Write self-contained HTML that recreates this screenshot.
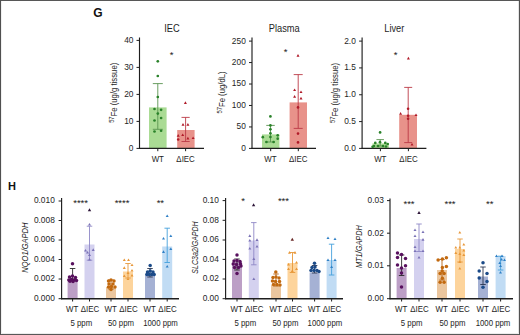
<!DOCTYPE html><html><head><meta charset="utf-8"><style>html,body{margin:0;padding:0;background:#fff;}svg{display:block;}</style></head><body>
<svg width="520" height="335" viewBox="0 0 520 335" font-family='"Liberation Sans", sans-serif'>
<rect x="0" y="0" width="520" height="335" fill="#fff"/>
<rect x="0" y="0" width="520" height="1" fill="#575757"/>
<rect x="0" y="334" width="520" height="1" fill="#585858"/>
<rect x="0" y="0" width="1" height="335" fill="#505050"/>
<rect x="519" y="0" width="1" height="335" fill="#525252"/>
<rect x="518" y="1" width="1" height="333" fill="#e4e4e4"/>
<rect x="1" y="333" width="518" height="1" fill="#ececec"/>
<rect x="1" y="1" width="1" height="333" fill="#f0f0f0"/>
<text transform="translate(97.80 17.10)" font-size="12" text-anchor="middle" font-weight="bold" font-style="normal" fill="#111" >G</text>
<text transform="translate(12.00 190.20)" font-size="11" text-anchor="middle" font-weight="bold" font-style="normal" fill="#111" >H</text>
<text transform="translate(172.00 32.20) scale(0.9 1)" font-size="10.3" text-anchor="middle" font-weight="normal" font-style="normal" fill="#1e1e1e" >IEC</text>
<line x1="139.50" y1="37.50" x2="139.50" y2="148.90" stroke="#1e1e1e" stroke-width="1.15"/>
<line x1="136.50" y1="40.40" x2="139.50" y2="40.40" stroke="#1e1e1e" stroke-width="1"/>
<text transform="translate(133.50 42.80) scale(0.95 1)" font-size="8.8" text-anchor="end" font-weight="normal" font-style="normal" fill="#1e1e1e" >40</text>
<line x1="136.50" y1="67.40" x2="139.50" y2="67.40" stroke="#1e1e1e" stroke-width="1"/>
<text transform="translate(133.50 69.80) scale(0.95 1)" font-size="8.8" text-anchor="end" font-weight="normal" font-style="normal" fill="#1e1e1e" >30</text>
<line x1="136.50" y1="94.40" x2="139.50" y2="94.40" stroke="#1e1e1e" stroke-width="1"/>
<text transform="translate(133.50 96.80) scale(0.95 1)" font-size="8.8" text-anchor="end" font-weight="normal" font-style="normal" fill="#1e1e1e" >20</text>
<line x1="136.50" y1="121.40" x2="139.50" y2="121.40" stroke="#1e1e1e" stroke-width="1"/>
<text transform="translate(133.50 123.80) scale(0.95 1)" font-size="8.8" text-anchor="end" font-weight="normal" font-style="normal" fill="#1e1e1e" >10</text>
<line x1="136.50" y1="148.40" x2="139.50" y2="148.40" stroke="#1e1e1e" stroke-width="1"/>
<text transform="translate(133.50 150.80) scale(0.95 1)" font-size="8.8" text-anchor="end" font-weight="normal" font-style="normal" fill="#1e1e1e" >0</text>
<rect x="149.00" y="107.40" width="17.60" height="41.00" fill="#aadb94"/>
<rect x="177.20" y="130.00" width="17.40" height="18.40" fill="#e8928a"/>
<line x1="139.00" y1="148.40" x2="204.00" y2="148.40" stroke="#1e1e1e" stroke-width="1.35"/>
<line x1="157.80" y1="148.40" x2="157.80" y2="151.20" stroke="#1e1e1e" stroke-width="1"/>
<line x1="185.60" y1="148.40" x2="185.60" y2="151.20" stroke="#1e1e1e" stroke-width="1"/>
<line x1="157.80" y1="83.60" x2="157.80" y2="129.30" stroke="#5a9450" stroke-width="0.9"/>
<line x1="152.80" y1="83.60" x2="162.80" y2="83.60" stroke="#5a9450" stroke-width="0.9"/>
<line x1="152.80" y1="129.30" x2="162.80" y2="129.30" stroke="#5a9450" stroke-width="0.9"/>
<line x1="185.60" y1="117.40" x2="185.60" y2="141.50" stroke="#bb3a46" stroke-width="0.9"/>
<line x1="181.50" y1="117.40" x2="189.70" y2="117.40" stroke="#bb3a46" stroke-width="0.9"/>
<line x1="181.50" y1="141.50" x2="189.70" y2="141.50" stroke="#bb3a46" stroke-width="0.9"/>
<circle cx="157.80" cy="61.30" r="1.35" fill="#2a822a"/>
<circle cx="157.80" cy="76.00" r="1.35" fill="#2a822a"/>
<circle cx="157.80" cy="97.00" r="1.35" fill="#2a822a"/>
<circle cx="154.50" cy="109.00" r="1.35" fill="#2a822a"/>
<circle cx="161.10" cy="109.80" r="1.35" fill="#2a822a"/>
<circle cx="157.80" cy="113.60" r="1.35" fill="#2a822a"/>
<circle cx="161.10" cy="118.00" r="1.35" fill="#2a822a"/>
<circle cx="154.50" cy="120.50" r="1.35" fill="#2a822a"/>
<circle cx="154.50" cy="131.50" r="1.35" fill="#2a822a"/>
<circle cx="161.10" cy="130.75" r="1.35" fill="#2a822a"/>
<path d="M185.40 101.18L186.90 103.88L183.90 103.88Z" fill="#b01a28"/>
<path d="M183.00 122.98L184.50 125.68L181.50 125.68Z" fill="#b01a28"/>
<path d="M187.90 122.98L189.40 125.68L186.40 125.68Z" fill="#b01a28"/>
<path d="M178.20 133.98L179.70 136.68L176.70 136.68Z" fill="#b01a28"/>
<path d="M182.70 133.38L184.20 136.08L181.20 136.08Z" fill="#b01a28"/>
<path d="M187.90 136.68L189.40 139.38L186.40 139.38Z" fill="#b01a28"/>
<path d="M193.10 136.38L194.60 139.08L191.60 139.08Z" fill="#b01a28"/>
<circle cx="178.20" cy="139.50" r="1.3" fill="#b01a28"/>
<text transform="translate(171.60 58.00)" font-size="9.5" text-anchor="middle" font-weight="normal" font-style="normal" fill="#1a1a1a" >*</text>
<text transform="translate(157.80 161.50) scale(0.9 1)" font-size="8.8" text-anchor="middle" font-weight="normal" font-style="normal" fill="#1e1e1e" >WT</text>
<text transform="translate(185.60 161.50) scale(0.9 1)" font-size="8.8" text-anchor="middle" font-weight="normal" font-style="normal" fill="#1e1e1e" >ΔIEC</text>
<text transform="translate(117.10 92.80) rotate(-90) scale(0.88 1)" font-size="8.8" text-anchor="middle" font-weight="normal" font-style="normal" fill="#1e1e1e" ><tspan font-size="6.6" dy="-2.9">57</tspan><tspan dy="2.9">Fe (ug/g tissue)</tspan></text>
<text transform="translate(284.30 32.20) scale(0.9 1)" font-size="10.3" text-anchor="middle" font-weight="normal" font-style="normal" fill="#1e1e1e" >Plasma</text>
<line x1="252.00" y1="37.60" x2="252.00" y2="148.90" stroke="#1e1e1e" stroke-width="1.15"/>
<line x1="249.00" y1="41.10" x2="252.00" y2="41.10" stroke="#1e1e1e" stroke-width="1"/>
<text transform="translate(245.80 43.50) scale(0.95 1)" font-size="8.8" text-anchor="end" font-weight="normal" font-style="normal" fill="#1e1e1e" >250</text>
<line x1="249.00" y1="62.56" x2="252.00" y2="62.56" stroke="#1e1e1e" stroke-width="1"/>
<text transform="translate(245.80 64.96) scale(0.95 1)" font-size="8.8" text-anchor="end" font-weight="normal" font-style="normal" fill="#1e1e1e" >200</text>
<line x1="249.00" y1="84.02" x2="252.00" y2="84.02" stroke="#1e1e1e" stroke-width="1"/>
<text transform="translate(245.80 86.42) scale(0.95 1)" font-size="8.8" text-anchor="end" font-weight="normal" font-style="normal" fill="#1e1e1e" >150</text>
<line x1="249.00" y1="105.48" x2="252.00" y2="105.48" stroke="#1e1e1e" stroke-width="1"/>
<text transform="translate(245.80 107.88) scale(0.95 1)" font-size="8.8" text-anchor="end" font-weight="normal" font-style="normal" fill="#1e1e1e" >100</text>
<line x1="249.00" y1="126.94" x2="252.00" y2="126.94" stroke="#1e1e1e" stroke-width="1"/>
<text transform="translate(245.80 129.34) scale(0.95 1)" font-size="8.8" text-anchor="end" font-weight="normal" font-style="normal" fill="#1e1e1e" >50</text>
<line x1="249.00" y1="148.40" x2="252.00" y2="148.40" stroke="#1e1e1e" stroke-width="1"/>
<text transform="translate(245.80 150.80) scale(0.95 1)" font-size="8.8" text-anchor="end" font-weight="normal" font-style="normal" fill="#1e1e1e" >0</text>
<rect x="262.00" y="134.40" width="17.40" height="14.00" fill="#aadb94"/>
<rect x="289.60" y="102.40" width="17.40" height="46.00" fill="#e8928a"/>
<line x1="251.50" y1="148.40" x2="316.00" y2="148.40" stroke="#1e1e1e" stroke-width="1.35"/>
<line x1="270.70" y1="148.40" x2="270.70" y2="151.20" stroke="#1e1e1e" stroke-width="1"/>
<line x1="298.30" y1="148.40" x2="298.30" y2="151.20" stroke="#1e1e1e" stroke-width="1"/>
<line x1="270.50" y1="125.40" x2="270.50" y2="142.00" stroke="#5a9450" stroke-width="0.9"/>
<line x1="266.25" y1="125.40" x2="274.75" y2="125.40" stroke="#5a9450" stroke-width="0.9"/>
<line x1="266.25" y1="142.00" x2="274.75" y2="142.00" stroke="#5a9450" stroke-width="0.9"/>
<line x1="298.20" y1="74.60" x2="298.20" y2="128.40" stroke="#bb3a46" stroke-width="0.9"/>
<line x1="293.70" y1="74.60" x2="302.70" y2="74.60" stroke="#bb3a46" stroke-width="0.9"/>
<line x1="293.70" y1="128.40" x2="302.70" y2="128.40" stroke="#bb3a46" stroke-width="0.9"/>
<circle cx="270.40" cy="116.40" r="1.35" fill="#2a822a"/>
<circle cx="270.40" cy="125.40" r="1.35" fill="#2a822a"/>
<circle cx="270.40" cy="129.30" r="1.35" fill="#2a822a"/>
<circle cx="270.40" cy="133.30" r="1.35" fill="#2a822a"/>
<circle cx="277.70" cy="135.30" r="1.35" fill="#2a822a"/>
<circle cx="262.80" cy="137.20" r="1.35" fill="#2a822a"/>
<circle cx="270.40" cy="137.00" r="1.35" fill="#2a822a"/>
<circle cx="277.70" cy="138.70" r="1.35" fill="#2a822a"/>
<circle cx="266.40" cy="142.00" r="1.35" fill="#2a822a"/>
<circle cx="273.60" cy="142.00" r="1.35" fill="#2a822a"/>
<path d="M298.00 53.98L299.50 56.68L296.50 56.68Z" fill="#b01a28"/>
<path d="M294.60 88.38L296.10 91.08L293.10 91.08Z" fill="#b01a28"/>
<path d="M301.00 90.38L302.50 93.08L299.50 93.08Z" fill="#b01a28"/>
<path d="M294.60 94.98L296.10 97.68L293.10 97.68Z" fill="#b01a28"/>
<path d="M301.00 96.78L302.50 99.48L299.50 99.48Z" fill="#b01a28"/>
<circle cx="298.00" cy="107.40" r="1.3" fill="#b01a28"/>
<circle cx="298.00" cy="133.60" r="1.3" fill="#b01a28"/>
<circle cx="298.00" cy="142.40" r="1.3" fill="#b01a28"/>
<text transform="translate(285.70 54.60)" font-size="9.5" text-anchor="middle" font-weight="normal" font-style="normal" fill="#1a1a1a" >*</text>
<text transform="translate(270.50 161.50) scale(0.9 1)" font-size="8.8" text-anchor="middle" font-weight="normal" font-style="normal" fill="#1e1e1e" >WT</text>
<text transform="translate(298.30 161.50) scale(0.9 1)" font-size="8.8" text-anchor="middle" font-weight="normal" font-style="normal" fill="#1e1e1e" >ΔIEC</text>
<text transform="translate(224.60 92.50) rotate(-90) scale(0.88 1)" font-size="8.8" text-anchor="middle" font-weight="normal" font-style="normal" fill="#1e1e1e" ><tspan font-size="6.6" dy="-2.9">57</tspan><tspan dy="2.9">Fe (ug/dL)</tspan></text>
<text transform="translate(394.30 32.20) scale(0.9 1)" font-size="10.3" text-anchor="middle" font-weight="normal" font-style="normal" fill="#1e1e1e" >Liver</text>
<line x1="362.10" y1="37.60" x2="362.10" y2="148.90" stroke="#1e1e1e" stroke-width="1.15"/>
<line x1="359.10" y1="41.10" x2="362.10" y2="41.10" stroke="#1e1e1e" stroke-width="1"/>
<text transform="translate(355.80 43.50) scale(0.95 1)" font-size="8.8" text-anchor="end" font-weight="normal" font-style="normal" fill="#1e1e1e" >2.0</text>
<line x1="359.10" y1="67.92" x2="362.10" y2="67.92" stroke="#1e1e1e" stroke-width="1"/>
<text transform="translate(355.80 70.33) scale(0.95 1)" font-size="8.8" text-anchor="end" font-weight="normal" font-style="normal" fill="#1e1e1e" >1.5</text>
<line x1="359.10" y1="94.75" x2="362.10" y2="94.75" stroke="#1e1e1e" stroke-width="1"/>
<text transform="translate(355.80 97.15) scale(0.95 1)" font-size="8.8" text-anchor="end" font-weight="normal" font-style="normal" fill="#1e1e1e" >1.0</text>
<line x1="359.10" y1="121.58" x2="362.10" y2="121.58" stroke="#1e1e1e" stroke-width="1"/>
<text transform="translate(355.80 123.98) scale(0.95 1)" font-size="8.8" text-anchor="end" font-weight="normal" font-style="normal" fill="#1e1e1e" >0.5</text>
<line x1="359.10" y1="148.40" x2="362.10" y2="148.40" stroke="#1e1e1e" stroke-width="1"/>
<text transform="translate(355.80 150.80) scale(0.95 1)" font-size="8.8" text-anchor="end" font-weight="normal" font-style="normal" fill="#1e1e1e" >0.0</text>
<rect x="372.40" y="143.40" width="16.40" height="5.00" fill="#aadb94"/>
<rect x="399.20" y="114.80" width="17.80" height="33.60" fill="#e8928a"/>
<line x1="361.60" y1="148.40" x2="426.40" y2="148.40" stroke="#1e1e1e" stroke-width="1.35"/>
<line x1="380.40" y1="148.40" x2="380.40" y2="151.20" stroke="#1e1e1e" stroke-width="1"/>
<line x1="408.40" y1="148.40" x2="408.40" y2="151.20" stroke="#1e1e1e" stroke-width="1"/>
<line x1="380.20" y1="139.60" x2="380.20" y2="146.00" stroke="#5a9450" stroke-width="0.9"/>
<line x1="376.45" y1="139.60" x2="383.95" y2="139.60" stroke="#5a9450" stroke-width="0.9"/>
<line x1="376.45" y1="146.00" x2="383.95" y2="146.00" stroke="#5a9450" stroke-width="0.9"/>
<line x1="408.20" y1="87.40" x2="408.20" y2="142.60" stroke="#bb3a46" stroke-width="0.9"/>
<line x1="404.20" y1="87.40" x2="412.20" y2="87.40" stroke="#bb3a46" stroke-width="0.9"/>
<line x1="404.20" y1="142.60" x2="412.20" y2="142.60" stroke="#bb3a46" stroke-width="0.9"/>
<circle cx="380.10" cy="132.40" r="1.35" fill="#2a822a"/>
<circle cx="375.30" cy="142.90" r="1.35" fill="#2a822a"/>
<circle cx="380.00" cy="142.20" r="1.35" fill="#2a822a"/>
<circle cx="385.30" cy="142.90" r="1.35" fill="#2a822a"/>
<circle cx="387.70" cy="144.00" r="1.35" fill="#2a822a"/>
<circle cx="374.00" cy="146.00" r="1.35" fill="#2a822a"/>
<circle cx="378.00" cy="146.00" r="1.35" fill="#2a822a"/>
<circle cx="383.00" cy="146.00" r="1.35" fill="#2a822a"/>
<circle cx="372.60" cy="146.80" r="1.35" fill="#2a822a"/>
<circle cx="386.00" cy="146.50" r="1.35" fill="#2a822a"/>
<path d="M408.40 56.78L409.90 59.48L406.90 59.48Z" fill="#b01a28"/>
<path d="M400.60 112.08L402.10 114.78L399.10 114.78Z" fill="#b01a28"/>
<path d="M416.00 113.38L417.50 116.08L414.50 116.08Z" fill="#b01a28"/>
<path d="M412.00 142.88L413.50 145.58L410.50 145.58Z" fill="#b01a28"/>
<circle cx="408.10" cy="108.70" r="1.3" fill="#b01a28"/>
<circle cx="408.10" cy="115.70" r="1.3" fill="#b01a28"/>
<circle cx="408.10" cy="118.70" r="1.3" fill="#b01a28"/>
<text transform="translate(395.60 57.80)" font-size="9.5" text-anchor="middle" font-weight="normal" font-style="normal" fill="#1a1a1a" >*</text>
<text transform="translate(380.30 161.50) scale(0.9 1)" font-size="8.8" text-anchor="middle" font-weight="normal" font-style="normal" fill="#1e1e1e" >WT</text>
<text transform="translate(408.60 161.50) scale(0.9 1)" font-size="8.8" text-anchor="middle" font-weight="normal" font-style="normal" fill="#1e1e1e" >ΔIEC</text>
<text transform="translate(337.60 93.00) rotate(-90) scale(0.88 1)" font-size="8.8" text-anchor="middle" font-weight="normal" font-style="normal" fill="#1e1e1e" ><tspan font-size="6.6" dy="-2.9">57</tspan><tspan dy="2.9">Fe (ug/g tissue)</tspan></text>
<rect x="67.60" y="281.50" width="10.00" height="17.20" fill="#bc9fc6"/>
<rect x="84.50" y="244.50" width="10.00" height="54.20" fill="#d4d1ef"/>
<rect x="106.00" y="287.00" width="10.00" height="11.70" fill="#ebc69e"/>
<rect x="123.00" y="271.50" width="10.00" height="27.20" fill="#fdd49c"/>
<rect x="145.00" y="275.50" width="10.00" height="23.20" fill="#a5b1d4"/>
<rect x="162.20" y="246.50" width="10.00" height="52.20" fill="#c1dcf4"/>
<line x1="61.60" y1="198.00" x2="61.60" y2="299.20" stroke="#1e1e1e" stroke-width="1.15"/>
<line x1="58.60" y1="201.00" x2="61.60" y2="201.00" stroke="#1e1e1e" stroke-width="1"/>
<text transform="translate(54.80 203.40) scale(0.95 1)" font-size="8.8" text-anchor="end" font-weight="normal" font-style="normal" fill="#1e1e1e" >0.010</text>
<line x1="58.60" y1="220.50" x2="61.60" y2="220.50" stroke="#1e1e1e" stroke-width="1"/>
<text transform="translate(54.80 222.90) scale(0.95 1)" font-size="8.8" text-anchor="end" font-weight="normal" font-style="normal" fill="#1e1e1e" >0.008</text>
<line x1="58.60" y1="240.00" x2="61.60" y2="240.00" stroke="#1e1e1e" stroke-width="1"/>
<text transform="translate(54.80 242.40) scale(0.95 1)" font-size="8.8" text-anchor="end" font-weight="normal" font-style="normal" fill="#1e1e1e" >0.006</text>
<line x1="58.60" y1="259.50" x2="61.60" y2="259.50" stroke="#1e1e1e" stroke-width="1"/>
<text transform="translate(54.80 261.90) scale(0.95 1)" font-size="8.8" text-anchor="end" font-weight="normal" font-style="normal" fill="#1e1e1e" >0.004</text>
<line x1="58.60" y1="279.00" x2="61.60" y2="279.00" stroke="#1e1e1e" stroke-width="1"/>
<text transform="translate(54.80 281.40) scale(0.95 1)" font-size="8.8" text-anchor="end" font-weight="normal" font-style="normal" fill="#1e1e1e" >0.002</text>
<line x1="58.60" y1="298.70" x2="61.60" y2="298.70" stroke="#1e1e1e" stroke-width="1"/>
<text transform="translate(54.80 301.10) scale(0.95 1)" font-size="8.8" text-anchor="end" font-weight="normal" font-style="normal" fill="#1e1e1e" >0.000</text>
<line x1="61.10" y1="298.70" x2="179.00" y2="298.70" stroke="#1e1e1e" stroke-width="1.35"/>
<line x1="72.60" y1="298.70" x2="72.60" y2="301.50" stroke="#1e1e1e" stroke-width="1"/>
<line x1="89.50" y1="298.70" x2="89.50" y2="301.50" stroke="#1e1e1e" stroke-width="1"/>
<line x1="111.00" y1="298.70" x2="111.00" y2="301.50" stroke="#1e1e1e" stroke-width="1"/>
<line x1="128.00" y1="298.70" x2="128.00" y2="301.50" stroke="#1e1e1e" stroke-width="1"/>
<line x1="150.00" y1="298.70" x2="150.00" y2="301.50" stroke="#1e1e1e" stroke-width="1"/>
<line x1="167.20" y1="298.70" x2="167.20" y2="301.50" stroke="#1e1e1e" stroke-width="1"/>
<line x1="72.60" y1="268.50" x2="72.60" y2="279.00" stroke="#2a2a2a" stroke-width="0.9"/>
<line x1="69.85" y1="268.50" x2="75.35" y2="268.50" stroke="#2a2a2a" stroke-width="0.9"/>
<line x1="69.85" y1="279.00" x2="75.35" y2="279.00" stroke="#2a2a2a" stroke-width="0.9"/>
<line x1="89.50" y1="226.20" x2="89.50" y2="260.20" stroke="#8e88c6" stroke-width="0.9"/>
<line x1="86.75" y1="226.20" x2="92.25" y2="226.20" stroke="#8e88c6" stroke-width="0.9"/>
<line x1="86.75" y1="260.20" x2="92.25" y2="260.20" stroke="#8e88c6" stroke-width="0.9"/>
<line x1="111.00" y1="280.00" x2="111.00" y2="289.00" stroke="#b5651a" stroke-width="0.9"/>
<line x1="108.25" y1="280.00" x2="113.75" y2="280.00" stroke="#b5651a" stroke-width="0.9"/>
<line x1="108.25" y1="289.00" x2="113.75" y2="289.00" stroke="#b5651a" stroke-width="0.9"/>
<line x1="128.00" y1="263.50" x2="128.00" y2="278.00" stroke="#e8983a" stroke-width="0.9"/>
<line x1="125.25" y1="263.50" x2="130.75" y2="263.50" stroke="#e8983a" stroke-width="0.9"/>
<line x1="125.25" y1="278.00" x2="130.75" y2="278.00" stroke="#e8983a" stroke-width="0.9"/>
<line x1="150.00" y1="268.50" x2="150.00" y2="277.00" stroke="#2a3550" stroke-width="0.9"/>
<line x1="147.25" y1="268.50" x2="152.75" y2="268.50" stroke="#2a3550" stroke-width="0.9"/>
<line x1="147.25" y1="277.00" x2="152.75" y2="277.00" stroke="#2a3550" stroke-width="0.9"/>
<line x1="167.20" y1="228.20" x2="167.20" y2="262.50" stroke="#45a0dc" stroke-width="0.9"/>
<line x1="164.45" y1="228.20" x2="169.95" y2="228.20" stroke="#45a0dc" stroke-width="0.9"/>
<line x1="164.45" y1="262.50" x2="169.95" y2="262.50" stroke="#45a0dc" stroke-width="0.9"/>
<circle cx="72.50" cy="263.80" r="1.75" fill="#58105e"/>
<circle cx="69.50" cy="277.00" r="1.75" fill="#58105e"/>
<circle cx="72.50" cy="276.00" r="1.75" fill="#58105e"/>
<circle cx="75.50" cy="277.50" r="1.75" fill="#58105e"/>
<circle cx="68.80" cy="280.00" r="1.75" fill="#58105e"/>
<circle cx="71.50" cy="279.50" r="1.75" fill="#58105e"/>
<circle cx="74.50" cy="280.00" r="1.75" fill="#58105e"/>
<circle cx="76.50" cy="280.50" r="1.75" fill="#58105e"/>
<circle cx="70.00" cy="281.20" r="1.75" fill="#58105e"/>
<circle cx="73.00" cy="281.50" r="1.75" fill="#58105e"/>
<path d="M89.50 222.88L91.00 225.58L88.00 225.58Z" fill="#7a72b6"/>
<path d="M85.50 248.88L87.00 251.58L84.00 251.58Z" fill="#7a72b6"/>
<path d="M93.20 248.18L94.70 250.88L91.70 250.88Z" fill="#7a72b6"/>
<path d="M87.50 250.88L89.00 253.58L86.00 253.58Z" fill="#7a72b6"/>
<path d="M89.50 253.38L91.00 256.08L88.00 256.08Z" fill="#7a72b6"/>
<path d="M89.50 257.88L91.00 260.58L88.00 260.58Z" fill="#7a72b6"/>
<circle cx="108.50" cy="281.00" r="1.75" fill="#c2690f"/>
<circle cx="111.00" cy="280.00" r="1.75" fill="#c2690f"/>
<circle cx="114.00" cy="281.00" r="1.75" fill="#c2690f"/>
<circle cx="109.00" cy="284.00" r="1.75" fill="#c2690f"/>
<circle cx="113.00" cy="284.00" r="1.75" fill="#c2690f"/>
<circle cx="108.50" cy="287.00" r="1.75" fill="#c2690f"/>
<circle cx="111.50" cy="286.50" r="1.75" fill="#c2690f"/>
<circle cx="115.00" cy="287.00" r="1.75" fill="#c2690f"/>
<circle cx="111.00" cy="289.50" r="1.75" fill="#c2690f"/>
<path d="M124.30 258.38L125.80 261.08L122.80 261.08Z" fill="#e8983a"/>
<path d="M128.50 258.38L130.00 261.08L127.00 261.08Z" fill="#e8983a"/>
<path d="M132.00 263.38L133.50 266.08L130.50 266.08Z" fill="#e8983a"/>
<path d="M124.30 266.18L125.80 268.88L122.80 268.88Z" fill="#e8983a"/>
<path d="M132.00 268.88L133.50 271.58L130.50 271.58Z" fill="#e8983a"/>
<path d="M128.00 271.38L129.50 274.08L126.50 274.08Z" fill="#e8983a"/>
<path d="M132.00 273.88L133.50 276.58L130.50 276.58Z" fill="#e8983a"/>
<path d="M124.30 274.38L125.80 277.08L122.80 277.08Z" fill="#e8983a"/>
<path d="M128.00 277.38L129.50 280.08L126.50 280.08Z" fill="#e8983a"/>
<circle cx="150.20" cy="265.50" r="1.75" fill="#1b4a88"/>
<circle cx="147.50" cy="272.00" r="1.75" fill="#1b4a88"/>
<circle cx="150.20" cy="271.00" r="1.75" fill="#1b4a88"/>
<circle cx="153.00" cy="272.00" r="1.75" fill="#1b4a88"/>
<circle cx="146.80" cy="274.50" r="1.75" fill="#1b4a88"/>
<circle cx="149.20" cy="274.50" r="1.75" fill="#1b4a88"/>
<circle cx="151.80" cy="274.50" r="1.75" fill="#1b4a88"/>
<circle cx="154.20" cy="274.50" r="1.75" fill="#1b4a88"/>
<path d="M167.20 214.38L168.70 217.08L165.70 217.08Z" fill="#2f80c6"/>
<path d="M163.50 236.88L165.00 239.58L162.00 239.58Z" fill="#2f80c6"/>
<path d="M170.80 234.38L172.30 237.08L169.30 237.08Z" fill="#2f80c6"/>
<path d="M170.80 247.38L172.30 250.08L169.30 250.08Z" fill="#2f80c6"/>
<path d="M163.50 250.18L165.00 252.88L162.00 252.88Z" fill="#2f80c6"/>
<path d="M167.20 264.88L168.70 267.58L165.70 267.58Z" fill="#2f80c6"/>
<text transform="translate(75.09 206.15)" font-size="9.5" text-anchor="middle" font-weight="normal" font-style="normal" fill="#1a1a1a" >*</text>
<text transform="translate(78.77 206.15)" font-size="9.5" text-anchor="middle" font-weight="normal" font-style="normal" fill="#1a1a1a" >*</text>
<text transform="translate(82.44 206.15)" font-size="9.5" text-anchor="middle" font-weight="normal" font-style="normal" fill="#1a1a1a" >*</text>
<text transform="translate(86.11 206.15)" font-size="9.5" text-anchor="middle" font-weight="normal" font-style="normal" fill="#1a1a1a" >*</text>
<text transform="translate(116.50 206.15)" font-size="9.5" text-anchor="middle" font-weight="normal" font-style="normal" fill="#1a1a1a" >*</text>
<text transform="translate(120.17 206.15)" font-size="9.5" text-anchor="middle" font-weight="normal" font-style="normal" fill="#1a1a1a" >*</text>
<text transform="translate(123.84 206.15)" font-size="9.5" text-anchor="middle" font-weight="normal" font-style="normal" fill="#1a1a1a" >*</text>
<text transform="translate(127.51 206.15)" font-size="9.5" text-anchor="middle" font-weight="normal" font-style="normal" fill="#1a1a1a" >*</text>
<text transform="translate(158.47 206.15)" font-size="9.5" text-anchor="middle" font-weight="normal" font-style="normal" fill="#1a1a1a" >*</text>
<text transform="translate(162.13 206.15)" font-size="9.5" text-anchor="middle" font-weight="normal" font-style="normal" fill="#1a1a1a" >*</text>
<text transform="translate(72.20 312.40) scale(0.9 1)" font-size="8.8" text-anchor="middle" font-weight="normal" font-style="normal" fill="#1e1e1e" >WT</text>
<text transform="translate(89.90 312.40) scale(0.9 1)" font-size="8.8" text-anchor="middle" font-weight="normal" font-style="normal" fill="#1e1e1e" >ΔIEC</text>
<text transform="translate(110.60 312.40) scale(0.9 1)" font-size="8.8" text-anchor="middle" font-weight="normal" font-style="normal" fill="#1e1e1e" >WT</text>
<text transform="translate(128.40 312.40) scale(0.9 1)" font-size="8.8" text-anchor="middle" font-weight="normal" font-style="normal" fill="#1e1e1e" >ΔIEC</text>
<text transform="translate(149.60 312.40) scale(0.9 1)" font-size="8.8" text-anchor="middle" font-weight="normal" font-style="normal" fill="#1e1e1e" >WT</text>
<text transform="translate(167.60 312.40) scale(0.9 1)" font-size="8.8" text-anchor="middle" font-weight="normal" font-style="normal" fill="#1e1e1e" >ΔIEC</text>
<text transform="translate(28.20 247.60) rotate(-90) scale(0.855 1)" font-size="8.8" text-anchor="middle" font-weight="normal" font-style="italic" fill="#1e1e1e" >NQO1/GAPDH</text>
<path d="M89.50 208.16L91.20 211.22L87.80 211.22Z" fill="#2d1538"/>
<text transform="translate(81.30 325.70) scale(0.84 1)" font-size="9.3" text-anchor="middle" font-weight="normal" font-style="normal" fill="#1e1e1e" >5 ppm</text>
<text transform="translate(121.00 325.70) scale(0.84 1)" font-size="9.3" text-anchor="middle" font-weight="normal" font-style="normal" fill="#1e1e1e" >50 ppm</text>
<text transform="translate(160.50 325.70) scale(0.84 1)" font-size="9.3" text-anchor="middle" font-weight="normal" font-style="normal" fill="#1e1e1e" >1000 ppm</text>
<rect x="232.00" y="262.00" width="10.00" height="36.70" fill="#bc9fc6"/>
<rect x="248.80" y="240.50" width="10.00" height="58.20" fill="#d4d1ef"/>
<rect x="271.00" y="285.00" width="10.00" height="13.70" fill="#ebc69e"/>
<rect x="287.50" y="263.00" width="10.00" height="35.70" fill="#fdd49c"/>
<rect x="309.60" y="272.50" width="10.00" height="26.20" fill="#a5b1d4"/>
<rect x="326.60" y="260.00" width="10.00" height="38.70" fill="#c1dcf4"/>
<line x1="225.60" y1="198.00" x2="225.60" y2="299.20" stroke="#1e1e1e" stroke-width="1.15"/>
<line x1="222.60" y1="200.60" x2="225.60" y2="200.60" stroke="#1e1e1e" stroke-width="1"/>
<text transform="translate(218.90 203.00) scale(0.95 1)" font-size="8.8" text-anchor="end" font-weight="normal" font-style="normal" fill="#1e1e1e" >0.10</text>
<line x1="222.60" y1="220.30" x2="225.60" y2="220.30" stroke="#1e1e1e" stroke-width="1"/>
<text transform="translate(218.90 222.70) scale(0.95 1)" font-size="8.8" text-anchor="end" font-weight="normal" font-style="normal" fill="#1e1e1e" >0.08</text>
<line x1="222.60" y1="240.00" x2="225.60" y2="240.00" stroke="#1e1e1e" stroke-width="1"/>
<text transform="translate(218.90 242.40) scale(0.95 1)" font-size="8.8" text-anchor="end" font-weight="normal" font-style="normal" fill="#1e1e1e" >0.06</text>
<line x1="222.60" y1="259.40" x2="225.60" y2="259.40" stroke="#1e1e1e" stroke-width="1"/>
<text transform="translate(218.90 261.80) scale(0.95 1)" font-size="8.8" text-anchor="end" font-weight="normal" font-style="normal" fill="#1e1e1e" >0.04</text>
<line x1="222.60" y1="279.00" x2="225.60" y2="279.00" stroke="#1e1e1e" stroke-width="1"/>
<text transform="translate(218.90 281.40) scale(0.95 1)" font-size="8.8" text-anchor="end" font-weight="normal" font-style="normal" fill="#1e1e1e" >0.02</text>
<line x1="222.60" y1="298.70" x2="225.60" y2="298.70" stroke="#1e1e1e" stroke-width="1"/>
<text transform="translate(218.90 301.10) scale(0.95 1)" font-size="8.8" text-anchor="end" font-weight="normal" font-style="normal" fill="#1e1e1e" >0.00</text>
<line x1="225.10" y1="298.70" x2="343.00" y2="298.70" stroke="#1e1e1e" stroke-width="1.35"/>
<line x1="237.00" y1="298.70" x2="237.00" y2="301.50" stroke="#1e1e1e" stroke-width="1"/>
<line x1="253.80" y1="298.70" x2="253.80" y2="301.50" stroke="#1e1e1e" stroke-width="1"/>
<line x1="276.00" y1="298.70" x2="276.00" y2="301.50" stroke="#1e1e1e" stroke-width="1"/>
<line x1="292.50" y1="298.70" x2="292.50" y2="301.50" stroke="#1e1e1e" stroke-width="1"/>
<line x1="314.60" y1="298.70" x2="314.60" y2="301.50" stroke="#1e1e1e" stroke-width="1"/>
<line x1="331.60" y1="298.70" x2="331.60" y2="301.50" stroke="#1e1e1e" stroke-width="1"/>
<line x1="237.00" y1="259.00" x2="237.00" y2="270.00" stroke="#2a2a2a" stroke-width="0.9"/>
<line x1="234.25" y1="259.00" x2="239.75" y2="259.00" stroke="#2a2a2a" stroke-width="0.9"/>
<line x1="234.25" y1="270.00" x2="239.75" y2="270.00" stroke="#2a2a2a" stroke-width="0.9"/>
<line x1="253.80" y1="222.60" x2="253.80" y2="264.80" stroke="#8e88c6" stroke-width="0.9"/>
<line x1="251.05" y1="222.60" x2="256.55" y2="222.60" stroke="#8e88c6" stroke-width="0.9"/>
<line x1="251.05" y1="264.80" x2="256.55" y2="264.80" stroke="#8e88c6" stroke-width="0.9"/>
<line x1="276.00" y1="274.00" x2="276.00" y2="286.00" stroke="#b5651a" stroke-width="0.9"/>
<line x1="273.25" y1="274.00" x2="278.75" y2="274.00" stroke="#b5651a" stroke-width="0.9"/>
<line x1="273.25" y1="286.00" x2="278.75" y2="286.00" stroke="#b5651a" stroke-width="0.9"/>
<line x1="292.50" y1="252.50" x2="292.50" y2="272.50" stroke="#e8983a" stroke-width="0.9"/>
<line x1="289.75" y1="252.50" x2="295.25" y2="252.50" stroke="#e8983a" stroke-width="0.9"/>
<line x1="289.75" y1="272.50" x2="295.25" y2="272.50" stroke="#e8983a" stroke-width="0.9"/>
<line x1="314.60" y1="265.50" x2="314.60" y2="273.00" stroke="#2a3550" stroke-width="0.9"/>
<line x1="311.85" y1="265.50" x2="317.35" y2="265.50" stroke="#2a3550" stroke-width="0.9"/>
<line x1="311.85" y1="273.00" x2="317.35" y2="273.00" stroke="#2a3550" stroke-width="0.9"/>
<line x1="331.60" y1="244.20" x2="331.60" y2="275.00" stroke="#45a0dc" stroke-width="0.9"/>
<line x1="328.85" y1="244.20" x2="334.35" y2="244.20" stroke="#45a0dc" stroke-width="0.9"/>
<line x1="328.85" y1="275.00" x2="334.35" y2="275.00" stroke="#45a0dc" stroke-width="0.9"/>
<circle cx="237.00" cy="255.00" r="1.75" fill="#58105e"/>
<circle cx="234.00" cy="261.00" r="1.75" fill="#58105e"/>
<circle cx="237.00" cy="260.50" r="1.75" fill="#58105e"/>
<circle cx="240.00" cy="261.50" r="1.75" fill="#58105e"/>
<circle cx="233.20" cy="264.00" r="1.75" fill="#58105e"/>
<circle cx="236.50" cy="264.50" r="1.75" fill="#58105e"/>
<circle cx="240.50" cy="264.00" r="1.75" fill="#58105e"/>
<circle cx="234.50" cy="267.50" r="1.75" fill="#58105e"/>
<circle cx="238.50" cy="267.50" r="1.75" fill="#58105e"/>
<circle cx="241.00" cy="266.00" r="1.75" fill="#58105e"/>
<circle cx="237.00" cy="273.50" r="1.75" fill="#58105e"/>
<path d="M249.80 234.18L251.30 236.88L248.30 236.88Z" fill="#7a72b6"/>
<path d="M249.80 238.88L251.30 241.58L248.30 241.58Z" fill="#7a72b6"/>
<path d="M257.00 238.18L258.50 240.88L255.50 240.88Z" fill="#7a72b6"/>
<path d="M249.80 246.88L251.30 249.58L248.30 249.58Z" fill="#7a72b6"/>
<path d="M257.00 244.88L258.50 247.58L255.50 247.58Z" fill="#7a72b6"/>
<path d="M253.80 257.38L255.30 260.08L252.30 260.08Z" fill="#7a72b6"/>
<path d="M253.80 277.38L255.30 280.08L252.30 280.08Z" fill="#7a72b6"/>
<circle cx="275.80" cy="272.00" r="1.75" fill="#c2690f"/>
<circle cx="273.00" cy="277.50" r="1.75" fill="#c2690f"/>
<circle cx="276.00" cy="277.00" r="1.75" fill="#c2690f"/>
<circle cx="279.00" cy="278.00" r="1.75" fill="#c2690f"/>
<circle cx="272.50" cy="281.00" r="1.75" fill="#c2690f"/>
<circle cx="275.50" cy="281.50" r="1.75" fill="#c2690f"/>
<circle cx="279.50" cy="281.50" r="1.75" fill="#c2690f"/>
<circle cx="273.50" cy="284.50" r="1.75" fill="#c2690f"/>
<circle cx="277.00" cy="284.50" r="1.75" fill="#c2690f"/>
<circle cx="280.00" cy="285.00" r="1.75" fill="#c2690f"/>
<path d="M289.50 250.98L291.00 253.68L288.00 253.68Z" fill="#e8983a"/>
<path d="M295.00 250.98L296.50 253.68L293.50 253.68Z" fill="#e8983a"/>
<path d="M288.50 262.88L290.00 265.58L287.00 265.58Z" fill="#e8983a"/>
<path d="M296.50 260.88L298.00 263.58L295.00 263.58Z" fill="#e8983a"/>
<path d="M288.50 267.38L290.00 270.08L287.00 270.08Z" fill="#e8983a"/>
<path d="M296.50 267.38L298.00 270.08L295.00 270.08Z" fill="#e8983a"/>
<path d="M292.30 269.38L293.80 272.08L290.80 272.08Z" fill="#e8983a"/>
<circle cx="314.50" cy="263.20" r="1.75" fill="#1b4a88"/>
<circle cx="312.00" cy="267.50" r="1.75" fill="#1b4a88"/>
<circle cx="315.00" cy="267.00" r="1.75" fill="#1b4a88"/>
<circle cx="311.00" cy="270.50" r="1.75" fill="#1b4a88"/>
<circle cx="314.00" cy="270.50" r="1.75" fill="#1b4a88"/>
<circle cx="317.00" cy="270.50" r="1.75" fill="#1b4a88"/>
<circle cx="319.00" cy="271.50" r="1.75" fill="#1b4a88"/>
<path d="M328.00 236.38L329.50 239.08L326.50 239.08Z" fill="#2f80c6"/>
<path d="M335.00 237.38L336.50 240.08L333.50 240.08Z" fill="#2f80c6"/>
<path d="M328.00 258.38L329.50 261.08L326.50 261.08Z" fill="#2f80c6"/>
<path d="M335.00 258.38L336.50 261.08L333.50 261.08Z" fill="#2f80c6"/>
<path d="M331.60 265.38L333.10 268.08L330.10 268.08Z" fill="#2f80c6"/>
<text transform="translate(243.00 204.40)" font-size="9.5" text-anchor="middle" font-weight="normal" font-style="normal" fill="#1a1a1a" >*</text>
<text transform="translate(279.73 204.40)" font-size="9.5" text-anchor="middle" font-weight="normal" font-style="normal" fill="#1a1a1a" >*</text>
<text transform="translate(283.40 204.40)" font-size="9.5" text-anchor="middle" font-weight="normal" font-style="normal" fill="#1a1a1a" >*</text>
<text transform="translate(287.07 204.40)" font-size="9.5" text-anchor="middle" font-weight="normal" font-style="normal" fill="#1a1a1a" >*</text>
<text transform="translate(236.60 312.40) scale(0.9 1)" font-size="8.8" text-anchor="middle" font-weight="normal" font-style="normal" fill="#1e1e1e" >WT</text>
<text transform="translate(254.20 312.40) scale(0.9 1)" font-size="8.8" text-anchor="middle" font-weight="normal" font-style="normal" fill="#1e1e1e" >ΔIEC</text>
<text transform="translate(275.60 312.40) scale(0.9 1)" font-size="8.8" text-anchor="middle" font-weight="normal" font-style="normal" fill="#1e1e1e" >WT</text>
<text transform="translate(292.90 312.40) scale(0.9 1)" font-size="8.8" text-anchor="middle" font-weight="normal" font-style="normal" fill="#1e1e1e" >ΔIEC</text>
<text transform="translate(314.20 312.40) scale(0.9 1)" font-size="8.8" text-anchor="middle" font-weight="normal" font-style="normal" fill="#1e1e1e" >WT</text>
<text transform="translate(332.00 312.40) scale(0.9 1)" font-size="8.8" text-anchor="middle" font-weight="normal" font-style="normal" fill="#1e1e1e" >ΔIEC</text>
<text transform="translate(197.80 247.50) rotate(-90) scale(0.8 1)" font-size="8.8" text-anchor="middle" font-weight="normal" font-style="italic" fill="#1e1e1e" >SLC3a2/GAPDH</text>
<path d="M253.60 203.16L255.30 206.22L251.90 206.22Z" fill="#2d1538"/>
<path d="M292.30 237.66L294.00 240.72L290.60 240.72Z" fill="#6a2a28"/>
<text transform="translate(245.30 325.70) scale(0.84 1)" font-size="9.3" text-anchor="middle" font-weight="normal" font-style="normal" fill="#1e1e1e" >5 ppm</text>
<text transform="translate(285.40 325.70) scale(0.84 1)" font-size="9.3" text-anchor="middle" font-weight="normal" font-style="normal" fill="#1e1e1e" >50 ppm</text>
<text transform="translate(324.90 325.70) scale(0.84 1)" font-size="9.3" text-anchor="middle" font-weight="normal" font-style="normal" fill="#1e1e1e" >1000 ppm</text>
<rect x="396.60" y="268.00" width="10.00" height="30.70" fill="#bc9fc6"/>
<rect x="414.00" y="239.00" width="10.00" height="59.70" fill="#d4d1ef"/>
<rect x="437.00" y="270.00" width="10.00" height="28.70" fill="#ebc69e"/>
<rect x="455.00" y="249.00" width="10.00" height="49.70" fill="#fdd49c"/>
<rect x="478.00" y="276.50" width="10.00" height="22.20" fill="#a5b1d4"/>
<rect x="495.60" y="256.00" width="10.00" height="42.70" fill="#c1dcf4"/>
<line x1="390.00" y1="198.40" x2="390.00" y2="299.20" stroke="#1e1e1e" stroke-width="1.15"/>
<line x1="387.00" y1="200.60" x2="390.00" y2="200.60" stroke="#1e1e1e" stroke-width="1"/>
<text transform="translate(383.80 203.00) scale(0.95 1)" font-size="8.8" text-anchor="end" font-weight="normal" font-style="normal" fill="#1e1e1e" >0.03</text>
<line x1="387.00" y1="233.20" x2="390.00" y2="233.20" stroke="#1e1e1e" stroke-width="1"/>
<text transform="translate(383.80 235.60) scale(0.95 1)" font-size="8.8" text-anchor="end" font-weight="normal" font-style="normal" fill="#1e1e1e" >0.02</text>
<line x1="387.00" y1="265.80" x2="390.00" y2="265.80" stroke="#1e1e1e" stroke-width="1"/>
<text transform="translate(383.80 268.20) scale(0.95 1)" font-size="8.8" text-anchor="end" font-weight="normal" font-style="normal" fill="#1e1e1e" >0.01</text>
<line x1="387.00" y1="298.70" x2="390.00" y2="298.70" stroke="#1e1e1e" stroke-width="1"/>
<text transform="translate(383.80 301.10) scale(0.95 1)" font-size="8.8" text-anchor="end" font-weight="normal" font-style="normal" fill="#1e1e1e" >0.00</text>
<line x1="389.50" y1="298.70" x2="513.00" y2="298.70" stroke="#1e1e1e" stroke-width="1.35"/>
<line x1="401.60" y1="298.70" x2="401.60" y2="301.50" stroke="#1e1e1e" stroke-width="1"/>
<line x1="419.00" y1="298.70" x2="419.00" y2="301.50" stroke="#1e1e1e" stroke-width="1"/>
<line x1="442.00" y1="298.70" x2="442.00" y2="301.50" stroke="#1e1e1e" stroke-width="1"/>
<line x1="460.00" y1="298.70" x2="460.00" y2="301.50" stroke="#1e1e1e" stroke-width="1"/>
<line x1="483.00" y1="298.70" x2="483.00" y2="301.50" stroke="#1e1e1e" stroke-width="1"/>
<line x1="500.60" y1="298.70" x2="500.60" y2="301.50" stroke="#1e1e1e" stroke-width="1"/>
<line x1="401.60" y1="255.00" x2="401.60" y2="275.50" stroke="#2a2a2a" stroke-width="0.9"/>
<line x1="398.85" y1="255.00" x2="404.35" y2="255.00" stroke="#2a2a2a" stroke-width="0.9"/>
<line x1="398.85" y1="275.50" x2="404.35" y2="275.50" stroke="#2a2a2a" stroke-width="0.9"/>
<line x1="419.00" y1="224.00" x2="419.00" y2="251.50" stroke="#8e88c6" stroke-width="0.9"/>
<line x1="416.25" y1="224.00" x2="421.75" y2="224.00" stroke="#8e88c6" stroke-width="0.9"/>
<line x1="416.25" y1="251.50" x2="421.75" y2="251.50" stroke="#8e88c6" stroke-width="0.9"/>
<line x1="442.00" y1="259.50" x2="442.00" y2="280.00" stroke="#b5651a" stroke-width="0.9"/>
<line x1="439.25" y1="259.50" x2="444.75" y2="259.50" stroke="#b5651a" stroke-width="0.9"/>
<line x1="439.25" y1="280.00" x2="444.75" y2="280.00" stroke="#b5651a" stroke-width="0.9"/>
<line x1="460.00" y1="239.00" x2="460.00" y2="262.00" stroke="#e8983a" stroke-width="0.9"/>
<line x1="457.25" y1="239.00" x2="462.75" y2="239.00" stroke="#e8983a" stroke-width="0.9"/>
<line x1="457.25" y1="262.00" x2="462.75" y2="262.00" stroke="#e8983a" stroke-width="0.9"/>
<line x1="483.00" y1="267.00" x2="483.00" y2="284.50" stroke="#2a3550" stroke-width="0.9"/>
<line x1="480.25" y1="267.00" x2="485.75" y2="267.00" stroke="#2a3550" stroke-width="0.9"/>
<line x1="480.25" y1="284.50" x2="485.75" y2="284.50" stroke="#2a3550" stroke-width="0.9"/>
<line x1="500.60" y1="256.20" x2="500.60" y2="270.00" stroke="#45a0dc" stroke-width="0.9"/>
<line x1="497.85" y1="256.20" x2="503.35" y2="256.20" stroke="#45a0dc" stroke-width="0.9"/>
<line x1="497.85" y1="270.00" x2="503.35" y2="270.00" stroke="#45a0dc" stroke-width="0.9"/>
<circle cx="397.50" cy="253.00" r="1.75" fill="#58105e"/>
<circle cx="401.50" cy="254.50" r="1.75" fill="#58105e"/>
<circle cx="405.50" cy="258.50" r="1.75" fill="#58105e"/>
<circle cx="397.50" cy="257.50" r="1.75" fill="#58105e"/>
<circle cx="397.50" cy="265.00" r="1.75" fill="#58105e"/>
<circle cx="405.50" cy="265.80" r="1.75" fill="#58105e"/>
<circle cx="401.50" cy="268.00" r="1.75" fill="#58105e"/>
<circle cx="401.50" cy="273.00" r="1.75" fill="#58105e"/>
<circle cx="401.50" cy="287.00" r="1.75" fill="#58105e"/>
<path d="M415.00 228.38L416.50 231.08L413.50 231.08Z" fill="#7a72b6"/>
<path d="M423.00 230.38L424.50 233.08L421.50 233.08Z" fill="#7a72b6"/>
<path d="M415.00 234.38L416.50 237.08L413.50 237.08Z" fill="#7a72b6"/>
<path d="M423.00 237.98L424.50 240.68L421.50 240.68Z" fill="#7a72b6"/>
<path d="M415.00 245.38L416.50 248.08L413.50 248.08Z" fill="#7a72b6"/>
<path d="M423.00 249.38L424.50 252.08L421.50 252.08Z" fill="#7a72b6"/>
<path d="M419.00 255.88L420.50 258.58L417.50 258.58Z" fill="#7a72b6"/>
<path d="M415.00 249.38L416.50 252.08L413.50 252.08Z" fill="#7a72b6"/>
<circle cx="438.10" cy="260.10" r="1.75" fill="#c2690f"/>
<circle cx="442.40" cy="259.10" r="1.75" fill="#c2690f"/>
<circle cx="446.40" cy="257.80" r="1.75" fill="#c2690f"/>
<circle cx="442.40" cy="267.50" r="1.75" fill="#c2690f"/>
<circle cx="446.40" cy="266.40" r="1.75" fill="#c2690f"/>
<circle cx="440.10" cy="273.50" r="1.75" fill="#c2690f"/>
<circle cx="444.10" cy="273.50" r="1.75" fill="#c2690f"/>
<circle cx="442.20" cy="271.00" r="1.75" fill="#c2690f"/>
<circle cx="442.40" cy="278.20" r="1.75" fill="#c2690f"/>
<circle cx="440.10" cy="282.30" r="1.75" fill="#c2690f"/>
<circle cx="444.10" cy="282.30" r="1.75" fill="#c2690f"/>
<path d="M459.80 230.88L461.30 233.58L458.30 233.58Z" fill="#e8983a"/>
<path d="M463.80 242.88L465.30 245.58L462.30 245.58Z" fill="#e8983a"/>
<path d="M455.80 245.88L457.30 248.58L454.30 248.58Z" fill="#e8983a"/>
<path d="M459.80 245.88L461.30 248.58L458.30 248.58Z" fill="#e8983a"/>
<path d="M463.80 248.88L465.30 251.58L462.30 251.58Z" fill="#e8983a"/>
<path d="M455.80 251.38L457.30 254.08L454.30 254.08Z" fill="#e8983a"/>
<path d="M459.80 252.38L461.30 255.08L458.30 255.08Z" fill="#e8983a"/>
<path d="M463.80 253.38L465.30 256.08L462.30 256.08Z" fill="#e8983a"/>
<path d="M459.80 260.38L461.30 263.08L458.30 263.08Z" fill="#e8983a"/>
<path d="M459.80 266.88L461.30 269.58L458.30 269.58Z" fill="#e8983a"/>
<circle cx="483.00" cy="262.80" r="1.75" fill="#1b4a88"/>
<circle cx="479.20" cy="271.00" r="1.75" fill="#1b4a88"/>
<circle cx="487.00" cy="273.50" r="1.75" fill="#1b4a88"/>
<circle cx="479.20" cy="278.00" r="1.75" fill="#1b4a88"/>
<circle cx="487.00" cy="281.50" r="1.75" fill="#1b4a88"/>
<circle cx="483.00" cy="287.20" r="1.75" fill="#1b4a88"/>
<path d="M496.50 254.38L498.00 257.08L495.00 257.08Z" fill="#2f80c6"/>
<path d="M502.00 254.38L503.50 257.08L500.50 257.08Z" fill="#2f80c6"/>
<path d="M501.50 257.88L503.00 260.58L500.00 260.58Z" fill="#2f80c6"/>
<path d="M504.50 258.38L506.00 261.08L503.00 261.08Z" fill="#2f80c6"/>
<path d="M499.80 261.38L501.30 264.08L498.30 264.08Z" fill="#2f80c6"/>
<path d="M500.50 264.38L502.00 267.08L499.00 267.08Z" fill="#2f80c6"/>
<path d="M500.50 270.88L502.00 273.58L499.00 273.58Z" fill="#2f80c6"/>
<text transform="translate(405.33 207.40)" font-size="9.5" text-anchor="middle" font-weight="normal" font-style="normal" fill="#1a1a1a" >*</text>
<text transform="translate(409.00 207.40)" font-size="9.5" text-anchor="middle" font-weight="normal" font-style="normal" fill="#1a1a1a" >*</text>
<text transform="translate(412.67 207.40)" font-size="9.5" text-anchor="middle" font-weight="normal" font-style="normal" fill="#1a1a1a" >*</text>
<text transform="translate(446.33 207.40)" font-size="9.5" text-anchor="middle" font-weight="normal" font-style="normal" fill="#1a1a1a" >*</text>
<text transform="translate(450.00 207.40)" font-size="9.5" text-anchor="middle" font-weight="normal" font-style="normal" fill="#1a1a1a" >*</text>
<text transform="translate(453.67 207.40)" font-size="9.5" text-anchor="middle" font-weight="normal" font-style="normal" fill="#1a1a1a" >*</text>
<text transform="translate(487.87 207.40)" font-size="9.5" text-anchor="middle" font-weight="normal" font-style="normal" fill="#1a1a1a" >*</text>
<text transform="translate(491.54 207.40)" font-size="9.5" text-anchor="middle" font-weight="normal" font-style="normal" fill="#1a1a1a" >*</text>
<text transform="translate(401.20 312.40) scale(0.9 1)" font-size="8.8" text-anchor="middle" font-weight="normal" font-style="normal" fill="#1e1e1e" >WT</text>
<text transform="translate(419.40 312.40) scale(0.9 1)" font-size="8.8" text-anchor="middle" font-weight="normal" font-style="normal" fill="#1e1e1e" >ΔIEC</text>
<text transform="translate(441.60 312.40) scale(0.9 1)" font-size="8.8" text-anchor="middle" font-weight="normal" font-style="normal" fill="#1e1e1e" >WT</text>
<text transform="translate(460.40 312.40) scale(0.9 1)" font-size="8.8" text-anchor="middle" font-weight="normal" font-style="normal" fill="#1e1e1e" >ΔIEC</text>
<text transform="translate(482.60 312.40) scale(0.9 1)" font-size="8.8" text-anchor="middle" font-weight="normal" font-style="normal" fill="#1e1e1e" >WT</text>
<text transform="translate(501.00 312.40) scale(0.9 1)" font-size="8.8" text-anchor="middle" font-weight="normal" font-style="normal" fill="#1e1e1e" >ΔIEC</text>
<text transform="translate(362.00 246.60) rotate(-90) scale(0.84 1)" font-size="8.8" text-anchor="middle" font-weight="normal" font-style="italic" fill="#1e1e1e" >MT1/GAPDH</text>
<path d="M419.00 210.96L420.70 214.02L417.30 214.02Z" fill="#2d1538"/>
<text transform="translate(411.70 325.70) scale(0.84 1)" font-size="9.3" text-anchor="middle" font-weight="normal" font-style="normal" fill="#1e1e1e" >5 ppm</text>
<text transform="translate(452.50 325.70) scale(0.84 1)" font-size="9.3" text-anchor="middle" font-weight="normal" font-style="normal" fill="#1e1e1e" >50 ppm</text>
<text transform="translate(493.00 325.70) scale(0.84 1)" font-size="9.3" text-anchor="middle" font-weight="normal" font-style="normal" fill="#1e1e1e" >1000 ppm</text>
</svg></body></html>
